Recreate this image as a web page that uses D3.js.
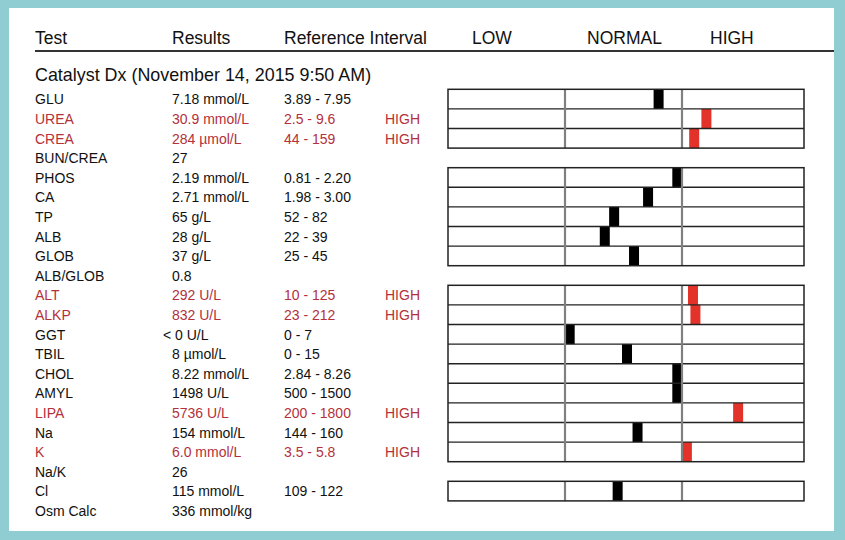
<!DOCTYPE html>
<html>
<head>
<meta charset="utf-8">
<script src="https://cdn.jsdelivr.net/npm/d3@7"></script>
<style>
  body { margin: 0; background: #8fcdd3; }
  svg { display: block; }
  text { font-family: "Liberation Sans", Arial, Helvetica, sans-serif; }
</style>
</head>
<body>
<div id="chart"></div>
<script>
const headers = ["Test", "Results", "Reference Interval"];
const zones = ["LOW", "NORMAL", "HIGH"];
const panelTitle = "Catalyst Dx (November 14, 2015 9:50 AM)";

const tests = ["GLU", "UREA", "CREA", "BUN/CREA", "PHOS", "CA", "TP", "ALB", "GLOB", "ALB/GLOB",
  "ALT", "ALKP", "GGT", "TBIL", "CHOL", "AMYL", "LIPA", "Na", "K", "Na/K", "Cl", "Osm Calc"];
const results = ["7.18 mmol/L", "30.9 mmol/L", "284 µmol/L", "27", "2.19 mmol/L", "2.71 mmol/L",
  "65 g/L", "28 g/L", "37 g/L", "0.8", "292 U/L", "832 U/L", "< 0 U/L", "8 µmol/L", "8.22 mmol/L",
  "1498 U/L", "5736 U/L", "154 mmol/L", "6.0 mmol/L", "26", "115 mmol/L", "336 mmol/kg"];
const refIntervals = ["3.89 - 7.95", "2.5 - 9.6", "44 - 159", "", "0.81 - 2.20", "1.98 - 3.00",
  "52 - 82", "22 - 39", "25 - 45", "", "10 - 125", "23 - 212", "0 - 7", "0 - 15", "2.84 - 8.26",
  "500 - 1500", "200 - 1800", "144 - 160", "3.5 - 5.8", "", "109 - 122", ""];
const flags = ["", "HIGH", "HIGH", "", "", "", "", "", "", "", "HIGH", "HIGH", "", "", "",
  "", "HIGH", "", "HIGH", "", "", ""];
// marker position on the gauge: 0-1 low, 1-2 normal, 2-3 high (null = no gauge)
const markerPos = [1.80, 2.20, 2.10, null, 1.96, 1.71, 1.42, 1.34, 1.59, null,
  2.09, 2.11, 1.04, 1.53, 1.96, 1.96, 2.46, 1.62, 2.04, null, 1.45, null];

const width = 845, height = 540;
const svg = d3.select("#chart").append("svg")
  .attr("width", width)
  .attr("height", height);

// white sheet
svg.append("rect")
  .attr("x", 9).attr("y", 8)
  .attr("width", 825).attr("height", 523)
  .attr("fill", "#fff");

const colX = [35, 172, 284, 385];
const black = "#111";
const red = "#b3313a";
const markerRed = "#e2322a";

// header
svg.selectAll(".hdr")
  .data(headers)
  .enter().append("text")
  .attr("class", "hdr")
  .attr("x", (d, i) => colX[i])
  .attr("y", 44)
  .attr("font-size", 17.5)
  .attr("fill", black)
  .text((d) => d);

const zoneX = [472, 587, 710];
svg.selectAll(".zone")
  .data(zones)
  .enter().append("text")
  .attr("class", "zone")
  .attr("x", (d, i) => zoneX[i])
  .attr("y", 44)
  .attr("font-size", 17.5)
  .attr("fill", black)
  .text((d) => d);

svg.append("line")
  .attr("x1", 35).attr("x2", 834)
  .attr("y1", 51).attr("y2", 51)
  .attr("stroke", "#333")
  .attr("stroke-width", 2);

svg.append("text")
  .attr("x", 35).attr("y", 81)
  .attr("font-size", 17.9)
  .attr("fill", black)
  .text(panelTitle);

// scales
const rowH = 19.6;
const y = d3.scaleBand()
  .domain(d3.range(tests.length))
  .range([89.3, 89.3 + tests.length * rowH]);

const x = d3.scaleLinear()
  .domain([0, 1, 2, 3])
  .range([448, 565, 682, 804]);

// table text
const rows = svg.selectAll(".row")
  .data(tests.map((t, i) => ({ i, test: t, result: results[i], ref: refIntervals[i], flag: flags[i] })))
  .enter().append("g")
  .attr("class", "row")
  .attr("transform", (d) => `translate(0,${y(d.i) + 15})`)
  .attr("fill", (d) => d.flag ? red : black)
  .attr("font-size", 14);

rows.append("text").attr("x", colX[0]).text((d) => d.test);
rows.append("text")
  .attr("x", (d) => d.result.startsWith("<") ? colX[1] - 9 : colX[1])
  .text((d) => d.result);
rows.append("text").attr("x", colX[2]).text((d) => d.ref);
rows.append("text").attr("x", colX[3]).text((d) => d.flag);

// gauge groups: runs of consecutive rows that have a marker
const groups = [];
markerPos.forEach((p, i) => {
  if (p === null) return;
  const last = groups[groups.length - 1];
  if (last && last.end === i - 1) last.end = i;
  else groups.push({ start: i, end: i });
});

const gauge = svg.append("g").attr("class", "gauge");
const markW = 10;

// markers
gauge.selectAll(".marker")
  .data(markerPos.map((p, i) => ({ p, i })).filter((d) => d.p !== null))
  .enter().append("rect")
  .attr("class", "marker")
  .attr("x", (d) => x(d.p) - markW / 2)
  .attr("y", (d) => y(d.i))
  .attr("width", markW)
  .attr("height", y.bandwidth())
  .attr("fill", (d) => flags[d.i] ? markerRed : "#000");

groups.forEach((g) => {
  const top = y(g.start);
  const bottom = y(g.end) + y.bandwidth();
  // row separators
  for (let r = g.start + 1; r <= g.end; r++) {
    gauge.append("line")
      .attr("x1", x(0)).attr("x2", x(3))
      .attr("y1", y(r)).attr("y2", y(r))
      .attr("stroke", "#222")
      .attr("stroke-width", 1.4);
  }
  // zone dividers
  [1, 2].forEach((v) => {
    gauge.append("line")
      .attr("x1", x(v)).attr("x2", x(v))
      .attr("y1", top).attr("y2", bottom)
      .attr("stroke", "#808080")
      .attr("stroke-width", 2.2);
  });
  gauge.append("rect")
    .attr("x", x(0)).attr("y", top)
    .attr("width", x(3) - x(0))
    .attr("height", bottom - top)
    .attr("fill", "none")
    .attr("stroke", "#222")
    .attr("stroke-width", 1.5);
});
</script>
</body>
</html>
